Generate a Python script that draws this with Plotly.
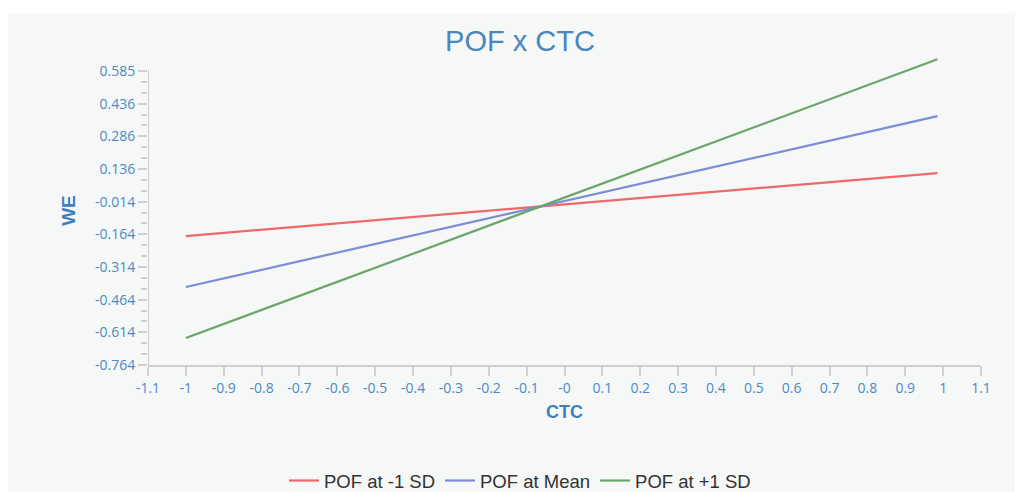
import plotly.graph_objects as go

ctc = [-1.0, 0.985]
pof_minus = [-0.172, 0.117]
pof_mean = [-0.406, 0.379]
pof_plus = [-0.640, 0.640]

series_names = ["POF at -1 SD", "POF at Mean", "POF at +1 SD"]
series_colors = ["#f0686a", "#7d8cd8", "#6aa66a"]

y_tickvals = [-0.764, -0.614, -0.464, -0.314, -0.164, -0.014, 0.136, 0.286, 0.436, 0.585]
y_ticktext = ["-0.764", "-0.614", "-0.464", "-0.314", "-0.164", "-0.014", "0.136", "0.286", "0.436", "0.585"]
x_tickvals = [round(-1.1 + 0.1 * i, 1) for i in range(23)]
x_ticktext = ["-0" if abs(v) < 1e-9 else ("%g" % v) for v in x_tickvals]

fig = go.Figure()
for name, ys, col in zip(series_names, [pof_minus, pof_mean, pof_plus], series_colors):
    fig.add_trace(go.Scatter(x=ctc, y=ys, mode="lines", name=name,
                             line=dict(color=col, width=2.2)))

tick_color = "#4a8bc6"
axis_col = "#cfcfcf"
panel = "#f6f7f7"
# plot area: x 148..981, y 56..365 (screen), page offset 8px
fig.add_shape(type="rect", xref="paper", yref="paper", x0=-0.168, x1=1.041, y0=-0.5, y1=1.14,
              fillcolor=panel, line=dict(width=0), layer="below")
# y axis line drawn only up to the top tick
fig.add_shape(type="line", xref="x", yref="y", x0=-1.1, x1=-1.1, y0=-0.764, y1=0.592,
              line=dict(color=axis_col, width=2), layer="below")

W, H = 1015, 484
cx = (520 - 8) / W
fig.update_layout(
    width=W, height=H,
    margin=dict(l=140, r=42, t=48, b=127, autoexpand=False),
    paper_bgcolor="white", plot_bgcolor=panel,
    title=dict(text="POF x CTC", xref="container", x=cx, xanchor="center",
               y=1 - (41 - 8) / H, yanchor="middle",
               font=dict(family="Liberation Sans, Arial", size=29, color="#4a86c0")),
    font=dict(family="Open Sans, Arial", color=tick_color),
    legend=dict(orientation="h", xref="container", x=cx, xanchor="center", yref="container",
                y=(H - (481 - 8)) / H, yanchor="middle",
                bgcolor="rgba(0,0,0,0)", itemwidth=30,
                font=dict(family="Liberation Sans, Arial", size=18.5, color="#333333")),
    showlegend=True,
)
fig.update_xaxes(range=[-1.1, 1.1], tickvals=x_tickvals, ticktext=x_ticktext,
                 showgrid=False, zeroline=False, showline=True, linecolor=axis_col, linewidth=2,
                 ticks="outside", ticklen=9, tickcolor=axis_col, tickwidth=2,
                 tickfont=dict(size=14, color=tick_color),
                 title=dict(text="<b>CTC</b>", font=dict(family="Liberation Sans, Arial", size=18, color="#3f7fbf"), standoff=10))
fig.update_yaxes(range=[-0.764, 0.655], tickvals=y_tickvals, ticktext=y_ticktext,
                 showgrid=False, zeroline=False, showline=False,
                 ticks="outside", ticklen=9, tickcolor=axis_col, tickwidth=2,
                 tickfont=dict(size=14, color=tick_color),
                 minor=dict(tickvals=[round(-0.764 + 0.05 * i, 3) for i in range(28)], ticks="outside", ticklen=6,
                            tickcolor=axis_col, tickwidth=2, showgrid=False),
                 title=dict(text="<b>WE</b>", font=dict(family="Liberation Sans, Arial", size=19, color="#3f7fbf"), standoff=14))

fig.write_html("out.html")
